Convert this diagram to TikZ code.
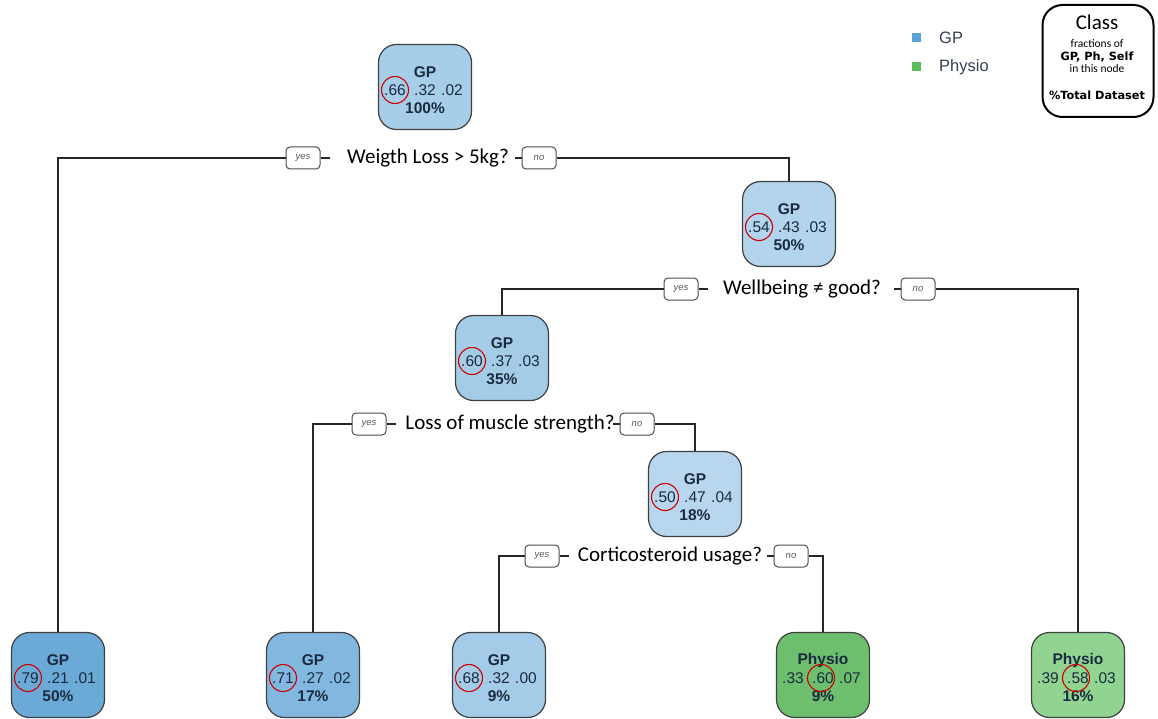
\documentclass[tikz,border=0pt]{standalone}
\usepackage{fontspec}
\setmainfont{Liberation Sans}
\newfontfamily\qfont{Carlito}
\newfontfamily\legfont{DejaVu Sans}
\definecolor{txtc}{HTML}{1A2B40}
\definecolor{legtxt}{HTML}{333F50}
\definecolor{cRoot}{HTML}{A7CEE8}
\definecolor{cNtwo}{HTML}{B2D4EC}
\definecolor{cNthree}{HTML}{A5CCE7}
\definecolor{cNfour}{HTML}{B8D7EE}
\definecolor{cLone}{HTML}{6BAAD7}
\definecolor{cLtwo}{HTML}{82B8DF}
\definecolor{cLthree}{HTML}{A4CBE7}
\definecolor{cLfour}{HTML}{6DBE6D}
\definecolor{cLfive}{HTML}{91D390}
\definecolor{legblue}{HTML}{5AA2D6}
\definecolor{leggreen}{HTML}{5DBB5D}
\tikzset{
  tbox/.style={draw=black!75, line width=1.2pt, rounded corners=18pt, minimum width=93pt, minimum height=85pt, inner sep=0pt},
  ttext/.style={text=txtc, font=\fontsize{15.5}{17}\selectfont, inner sep=0pt, anchor=center},
  yn/.style={draw=black!70, line width=1pt, rounded corners=4pt, fill=white, minimum width=34pt, minimum height=22pt, inner sep=0pt, font=\fontsize{9.5}{10}\selectfont\itshape, text=black!65},
  quest/.style={font=\qfont\fontsize{21}{24}\selectfont, inner sep=0pt},
  conn/.style={draw=black!85, line width=1.3pt},
  hilite/.style={draw=red!80!black, line width=1.1pt}
}
\newcommand{\treenode}[9]{%
  \node[tbox, fill=#3] (#1) at #2 {};
  \node[ttext] at ([yshift=15pt]#1.center) {\bfseries #4};
  \node[ttext] at ([xshift=-30pt,yshift=-3pt]#1.center) {#5};
  \node[ttext] at ([xshift=0pt,yshift=-3pt]#1.center) {#6};
  \node[ttext] at ([xshift=27pt,yshift=-3pt]#1.center) {#7};
  \node[ttext] at ([yshift=-21pt]#1.center) {\bfseries #8};
  \draw[hilite] ([xshift=#9,yshift=-3pt]#1.center) circle (13.5);
}
\begin{document}
\begin{tikzpicture}[x=1pt,y=-1pt]
\useasboundingbox (0,0) rectangle (1158,719);
% tree nodes
\treenode{root}{(425,87)}{cRoot}{GP}{.66}{.32}{.02}{100\%}{-30pt}
\treenode{ntwo}{(789,224)}{cNtwo}{GP}{.54}{.43}{.03}{50\%}{-30pt}
\treenode{nthree}{(502,358)}{cNthree}{GP}{.60}{.37}{.03}{35\%}{-30pt}
\treenode{nfour}{(695,494)}{cNfour}{GP}{.50}{.47}{.04}{18\%}{-30pt}
\treenode{lone}{(58,675)}{cLone}{GP}{.79}{.21}{.01}{50\%}{-30pt}
\treenode{ltwo}{(313,675)}{cLtwo}{GP}{.71}{.27}{.02}{17\%}{-30pt}
\treenode{lthree}{(499,675)}{cLthree}{GP}{.68}{.32}{.00}{9\%}{-30pt}
\treenode{lfour}{(823,675)}{cLfour}{Physio}{.33}{.60}{.07}{9\%}{-2pt}
\treenode{lfive}{(1078,675)}{cLfive}{Physio}{.39}{.58}{.03}{16\%}{-2pt}
% split questions
\node[quest] (qone) at (428,158) {Weigth Loss > 5kg?};
\node[quest] (qtwo) at (802,289) {Wellbeing ≠ good?};
\node[quest] (qthree) at (510,424) {Loss of muscle strength?};
\node[quest] (qfour) at (670,556) {Corticosteroid usage?};
% yes / no labels
\node[yn] (yone) at (303,158) {yes};
\node[yn] (none) at (539,158) {no};
\node[yn] (ytwo) at (681,289) {yes};
\node[yn] (ntwolab) at (918,289) {no};
\node[yn] (ythree) at (369,424) {yes};
\node[yn] (nthreelab) at (637,424) {no};
\node[yn] (yfour) at (542,556) {yes};
\node[yn] (nfourlab) at (791,556) {no};
% connectors
\draw[conn] (lone.north) |- (yone.west);
\draw[conn] (yone.east) -- ++(9,0);
\draw[conn] (none.west) -- ++(-7,0);
\draw[conn] (none.east) -| (ntwo.north);
\draw[conn] (nthree.north) |- (ytwo.west);
\draw[conn] (ytwo.east) -- ++(9,0);
\draw[conn] (ntwolab.west) -- ++(-7,0);
\draw[conn] (ntwolab.east) -| (lfive.north);
\draw[conn] (ltwo.north) |- (ythree.west);
\draw[conn] (ythree.east) -- ++(9,0);
\draw[conn] (nthreelab.west) -- ++(-7,0);
\draw[conn] (nthreelab.east) -| (nfour.north);
\draw[conn] (lthree.north) |- (yfour.west);
\draw[conn] (yfour.east) -- ++(9,0);
\draw[conn] (nfourlab.west) -- ++(-7,0);
\draw[conn] (nfourlab.east) -| (lfour.north);
% legend
\node[fill=legblue, minimum size=9pt, inner sep=0pt] (sqgp) at (916,38) {};
\node[fill=leggreen, minimum size=9pt, inner sep=0pt] (sqph) at (916,67) {};
\node[anchor=west, font=\fontsize{16.5}{18}\selectfont, text=legtxt, inner sep=0pt] (tgp) at (939,38) {GP};
\node[anchor=west, font=\fontsize{16.5}{18}\selectfont, text=legtxt, inner sep=0pt] (tph) at (939,67) {Physio};
\node[draw=black, line width=2pt, rounded corners=20pt, minimum width=111pt, minimum height=112pt] (legbox) at (1098,61) {};
\node[font=\qfont\fontsize{21}{23}\selectfont, inner sep=0pt] (lclass) at (1097,22) {Class};
\node[font=\qfont\fontsize{11.5}{13}\selectfont, inner sep=0pt] (lfrac) at (1097,44) {fractions of};
\node[font=\legfont\bfseries\fontsize{11.3}{13}\selectfont, inner sep=0pt] (lgp) at (1097,57) {GP, Ph, Self};
\node[font=\qfont\fontsize{11.5}{13}\selectfont, inner sep=0pt] (lin) at (1097,69) {in this node};
\node[font=\legfont\bfseries\fontsize{11.3}{13}\selectfont, inner sep=0pt] (ltot) at (1097,95) {\%Total Dataset};
\end{tikzpicture}
\end{document}
